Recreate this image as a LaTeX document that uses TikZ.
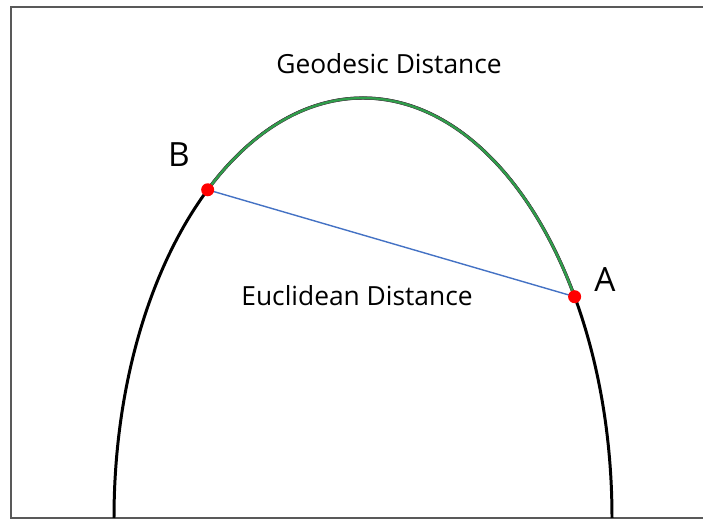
\documentclass[tikz,border=0pt]{standalone}
\usepackage{fontspec}
\setmainfont{Open Sans}
\usepackage{xcolor}
\usetikzlibrary{calc}
\definecolor{framegray}{HTML}{595959}
\definecolor{geogreen}{HTML}{2EA04A}
\definecolor{eucblue}{HTML}{4472C4}

\begin{document}
\begin{tikzpicture}[x=0.02cm, y=0.02cm,
    curve/.style={black, line width=1.7pt},
    dot/.style={circle, fill=red, inner sep=0pt, minimum size=0.26cm},
    lbl/.style={font=\fontsize{15}{18}\selectfont},
    pointlbl/.style={font=\fontsize{19}{23}\selectfont}]
  \useasboundingbox (0,0) rectangle (703,520);

  % Frame
  \draw[framegray, line width=1.2pt] (703,513) -- (11,513) -- (11,2) -- (703,2);

  % Arch (half ellipse)
  \coordinate (O) at (363,2);
  \draw[curve] ($(O)+(180:249 and 420)$) arc[start angle=180, end angle=0, x radius=249, y radius=420];

  % Points on the arch
  \coordinate (B) at ($(O)+(128.6:249 and 420)$);
  \coordinate (A) at ($(O)+(31.8:249 and 420)$);

  % Geodesic path
  \draw[black!70, line width=1.8pt] (B) arc[start angle=128.6, end angle=31.8, x radius=249, y radius=420];
  \draw[geogreen, line width=1.2pt] (B) arc[start angle=128.6, end angle=31.8, x radius=249, y radius=420];

  % Euclidean path
  \draw[eucblue, line width=0.8pt] (B) -- (A);

  \node[dot] (b) at (B) {};
  \node[dot] (a) at (A) {};

  % Labels
  \node[lbl] (geo) at (389,456) {Geodesic Distance};
  \node[lbl] (euc) at (357,224) {Euclidean Distance};
  \node[pointlbl] (blbl) at (179,365) {B};
  \node[pointlbl] (albl) at (605,240) {A};
\end{tikzpicture}
\end{document}
